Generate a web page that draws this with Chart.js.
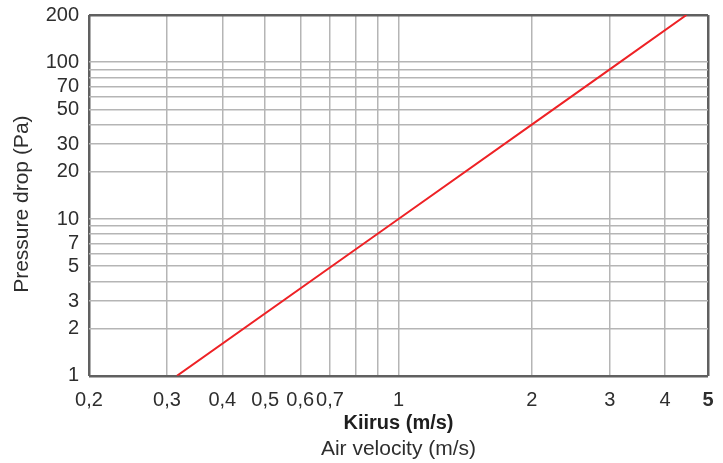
<!DOCTYPE html>
<html>
<head>
<meta charset="utf-8">
<script src="https://cdn.jsdelivr.net/npm/chart.js@4/dist/chart.umd.min.js"></script>
<style>
  body { margin: 0; background: #fff; }
  canvas { display: block; }
</style>
</head>
<body>
<canvas id="chart" width="723" height="463"></canvas>
<script>
// Pressure drop vs air velocity (log-log)
const velocity = [0.316, 1, 2, 3, 4.47];
const pressure = [1, 10, 40, 90, 200];

// grid lines
const xGrid = [0.2, 0.3, 0.4, 0.5, 0.6, 0.7, 0.8, 0.9, 1, 2, 3, 4, 5];
const yGrid = [1, 2, 3, 4, 5, 6, 7, 8, 9, 10, 20, 30, 40, 50, 60, 70, 80, 90, 100, 200];

// labelled ticks
const xTickValues = [0.2, 0.3, 0.4, 0.5, 0.6, 0.7, 1, 2, 3, 4, 5];
const xTickLabels = ["0,2", "0,3", "0,4", "0,5", "0,6", "0,7", "1", "2", "3", "4", "5"];
const yTickValues = [1, 2, 3, 5, 7, 10, 20, 30, 50, 70, 100, 200];
const yTickLabels = ["1", "2", "3", "5", "7", "10", "20", "30", "50", "70", "100", "200"];

const textColor = "#2e2e2e";
const frameColor = "#606060";
const gridColor = "#b5b5b5";
const fontFamily = "'Liberation Sans', Arial, sans-serif";

function gridStyle(min, max) {
  return {
    drawTicks: false,
    color: (ctx) => (ctx.tick && (ctx.tick.value === min || ctx.tick.value === max) ? frameColor : gridColor),
    lineWidth: (ctx) => (ctx.tick && (ctx.tick.value === min || ctx.tick.value === max) ? 2.5 : 1.5),
  };
}

new Chart(document.getElementById("chart"), {
  type: "scatter",
  data: {
    datasets: [
      {
        data: velocity.map((v, i) => ({ x: v, y: pressure[i] })),
        showLine: true,
        borderColor: "#ee2226",
        borderWidth: 2,
        pointRadius: 0,
        fill: false,
      },
    ],
  },
  options: {
    responsive: false,
    animation: false,
    layout: { padding: { top: 15, right: 15, left: 0, bottom: 0 } },
    plugins: {
      legend: { display: false },
      tooltip: { enabled: false },
      title: {
        display: true,
        position: "bottom",
        fullSize: false,
        text: "Air velocity (m/s)",
        color: textColor,
        font: { family: fontFamily, size: 21, weight: "normal" },
        padding: { top: 0, bottom: 1 },
      },
    },
    scales: {
      x: {
        type: "logarithmic",
        min: 0.2,
        max: 5,
        afterBuildTicks: (scale) => {
          scale.ticks = xGrid.map((v) => ({ value: v }));
        },
        afterFit: (scale) => {
          scale.height = 61;
          scale.paddingLeft = 0;
          scale.paddingRight = 0;
        },
        border: { display: false },
        grid: gridStyle(0.2, 5),
        ticks: {
          autoSkip: false,
          maxRotation: 0,
          padding: 13,
          color: textColor,
          font: (ctx) => ({
            family: fontFamily,
            size: 20,
            weight: ctx.tick && ctx.tick.value === 5 ? "bold" : "normal",
          }),
          callback: (value) => {
            const i = xTickValues.indexOf(value);
            return i >= 0 ? xTickLabels[i] : "";
          },
        },
        title: {
          display: true,
          text: "Kiirus (m/s)",
          color: "#1e1e1e",
          font: { family: fontFamily, size: 20, weight: "bold" },
          padding: { top: 0, bottom: 1 },
        },
      },
      y: {
        type: "logarithmic",
        min: 1,
        max: 200,
        afterBuildTicks: (scale) => {
          scale.ticks = yGrid.map((v) => ({ value: v }));
        },
        afterFit: (scale) => {
          scale.width = 89;
          scale.paddingTop = 0;
          scale.paddingBottom = 0;
        },
        border: { display: false },
        grid: gridStyle(1, 200),
        ticks: {
          autoSkip: false,
          padding: 10,
          color: textColor,
          font: { family: fontFamily, size: 20 },
          callback: (value) => {
            const i = yTickValues.indexOf(value);
            return i >= 0 ? yTickLabels[i] : "";
          },
        },
        title: {
          display: true,
          // trailing spaces nudge the rotated title a bit lower, as in the original
          text: "Pressure drop (Pa)   ",
          color: textColor,
          font: { family: fontFamily, size: 21, weight: "normal" },
          padding: { top: 10, bottom: 0 },
        },
      },
    },
  },
});
</script>
</body>
</html>
